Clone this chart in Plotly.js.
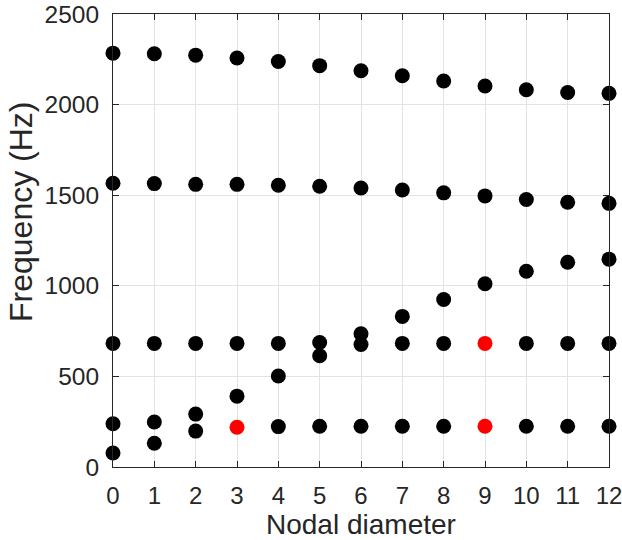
<!DOCTYPE html>
<html>
<head>
<meta charset="utf-8">
<script src="https://cdn.plot.ly/plotly-3.0.1.min.js"></script>
<style>html,body{margin:0;padding:0;background:#fff;}#chart{width:622px;height:540px;}</style>
</head>
<body>
<div id="chart"></div>
<script>
// Nodal diameters
var nodalDiameter = [0,1,2,3,4,5,6,7,8,9,10,11,12];
// Frequency families (Hz); null where the point is highlighted in red
var familyTop    = [2284,2281,2273,2257,2238,2215,2187,2159,2130,2103,2082,2067,2062];
var familySecond = [1566,1564,1560,1560,1555,1549,1540,1529,1513,1496,1476,1461,1455];
var familyFlat   = [682,682,682,682,682,687,676,682,682,null,682,682,682];
var familyRising = [239,248,292,391,502,614,735,831,924,1011,1080,1130,1147];
var familyLow    = [77,131,198,null,223,225,225,225,225,null,225,225,225];
// Highlighted points
var redX = [3,9,9];
var redY = [219,225,682];
var xTicks = [0,1,2,3,4,5,6,7,8,9,10,11,12];
var yTicks = [0,500,1000,1500,2000,2500];
var xTitle = 'Nodal diameter';
var yTitle = 'Frequency (Hz)';

var FONT = 'Liberation Sans, Arial, Helvetica, sans-serif';
var dark = '#262626';

function blackTrace(y){
  return {x: nodalDiameter, y: y, type:'scatter', mode:'markers', cliponaxis:false,
    marker:{color:'#000000', size:15, line:{width:0}}, showlegend:false, hoverinfo:'skip'};
}
var traces = [
  blackTrace(familyTop), blackTrace(familySecond), blackTrace(familyFlat),
  blackTrace(familyRising), blackTrace(familyLow),
  {x: redX, y: redY, type:'scatter', mode:'markers', cliponaxis:false,
   marker:{color:'#ff0000', size:15, line:{width:0}}, showlegend:false, hoverinfo:'skip'}
];

var axisCommon = {
  showline:true, linecolor:dark, linewidth:1, mirror:'ticks',
  ticks:'inside', ticklen:6, tickcolor:dark, tickwidth:1,
  showgrid:true, gridcolor:'#e3e3e3', gridwidth:1, zeroline:false,
  ticklabeloverflow:'allow'
};

// plot area in pixels
var L = 113, R = 609, T = 14, B = 467;

var layout = {
  width:622, height:540,
  margin:{l:L, r:622-R, t:T, b:540-B, pad:0},
  paper_bgcolor:'#ffffff', plot_bgcolor:'#ffffff',
  xaxis: Object.assign({}, axisCommon, {
    range:[0,12], tickvals:xTicks, ticktext:xTicks.map(String),
    ticklabelstandoff:7,
    tickfont:{family:FONT, size:24, color:dark}
  }),
  yaxis: Object.assign({}, axisCommon, {
    range:[0,2500], tickvals:yTicks, ticktext:yTicks.map(String),
    ticklabelstandoff:8,
    tickfont:{family:FONT, size:24.5, color:dark}
  }),
  annotations:[
    {text:xTitle, xref:'paper', yref:'paper', showarrow:false,
     x:(361-L)/(R-L), y:(B-524)/(B-T), xanchor:'center', yanchor:'middle',
     font:{family:FONT, size:28, color:dark}},
    {text:yTitle, xref:'paper', yref:'paper', showarrow:false, textangle:-90,
     x:(21-L)/(R-L), y:(B-212)/(B-T), xanchor:'center', yanchor:'middle',
     font:{family:FONT, size:32, color:dark}}
  ]
};

Plotly.newPlot('chart', traces, layout, {staticPlot:true, displayModeBar:false});
</script>
</body>
</html>
